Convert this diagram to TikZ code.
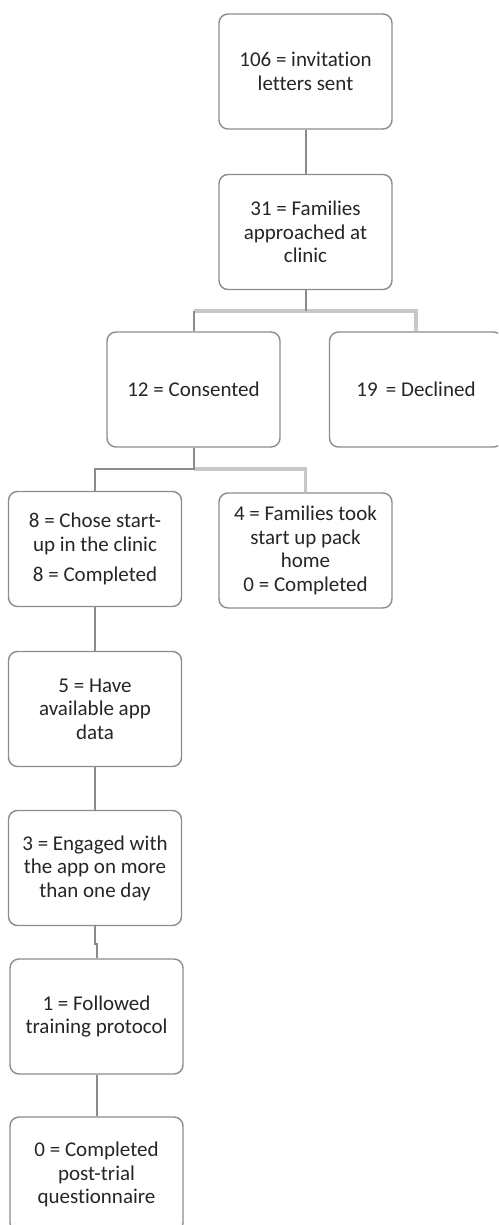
\documentclass[tikz,border=0pt]{standalone}
\usepackage{fontspec}
\setmainfont{Carlito}[Ligatures=CommonOff]
\usetikzlibrary{positioning}

\begin{document}
\begin{tikzpicture}[x=1pt,y=-1pt,
  box/.style={draw=black!45,line width=1.4pt,rounded corners=9pt,fill=white,
    minimum width=173pt,minimum height=115pt,inner sep=2pt,align=center,
    text=black!85,font=\fontsize{21}{23.5}\selectfont},
  ln/.style={draw=black!45,line width=2pt},
  lt/.style={draw=black!22,line width=3.5pt}]
  % page frame; the bottom box and the right box run past it
  \clip (0,0) rectangle (498,1225);
  \fill[white] (0,0) rectangle (498,1225);
  % recruitment column
  \node[box] (inv) at (305.5,71.5) {106 = invitation\\letters sent};
  \node[box] (appr) at (305.5,232) {31 = Families\\approached at\\clinic};
  \node[box] (cons) at (193.5,389.5) {12 = Consented};
  \node[box] (decl) at (416,389.5) {19 \,= Declined};
  % start-up split
  \node[box] (clin) at (95,549) {8 = Chose start-\\up in the clinic\\[7pt]8 = Completed};
  \node[box] (home) at (305.5,550.5) {4 = Families took\\start up pack\\home\\0 = Completed};
  % follow-up of the clinic group
  \node[box] (data) at (95,709) {5 = Have\\available app\\data};
  \node[box] (eng) at (95,868) {3 = Engaged with\\the app on more\\than one day};
  \node[box] (prot) at (96.5,1016.5) {1 = Followed\\training protocol};
  \node[box] (quest) at (96.5,1174.5) {0 = Completed\\post-trial\\questionnaire};
  % junctions of the two forks
  \coordinate (f1) at (305.5,311);
  \coordinate (f2) at (193.5,469);
  \draw[lt] (f1 -| cons) -- (f1) -| (decl.north);
  \draw[ln] (inv) -- (appr);
  \draw[ln] (appr.south) -- (f1);
  \draw[ln] (f1 -| cons) -- (cons.north);
  \draw[lt] (f2) -| (home.north);
  \draw[ln] (cons.south) -- (f2) -| (clin.north);
  \draw[ln] (clin) -- (data);
  \draw[ln] (data) -- (eng);
  \draw[ln] (eng.south) -- ++(0,18) -| (prot.north);
  \draw[ln] (prot) -- (quest);
\end{tikzpicture}
\end{document}
